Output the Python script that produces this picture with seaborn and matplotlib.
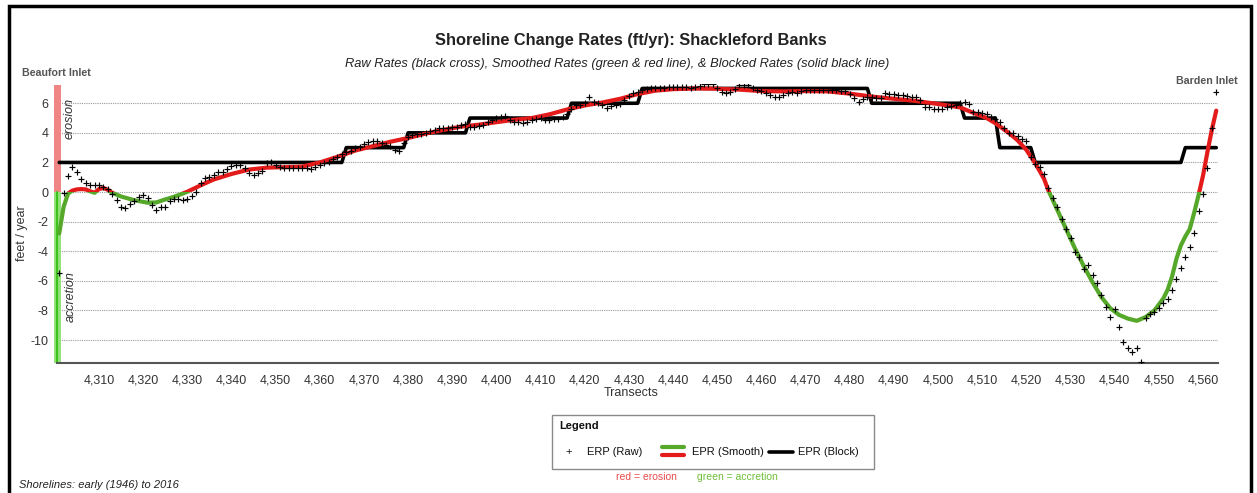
import numpy as np
import pandas as pd
import matplotlib
matplotlib.use("Agg")
import matplotlib.pyplot as plt
from matplotlib.patches import Rectangle
from matplotlib.lines import Line2D
import seaborn as sns

# raw end point rates, one per transect 4301..4563
raw_rates = [
    -5.5, -0.05, 1.1, 1.7, 1.33, 0.85, 0.63, 0.5, 0.5, 0.5,
    0.36, 0.2, -0.1, -0.57, -1.02, -1.08, -0.8, -0.6, -0.35, -0.18,
    -0.37, -0.85, -1.24, -1.01, -0.99, -0.62, -0.5, -0.45, -0.54, -0.5,
    -0.3, 0.0, 0.59, 0.92, 1.03, 1.15, 1.37, 1.37, 1.53, 1.76,
    1.82, 1.82, 1.65, 1.32, 1.18, 1.26, 1.4, 1.94, 2.0, 1.8,
    1.71, 1.65, 1.62, 1.6, 1.63, 1.65, 1.6, 1.58, 1.7, 1.8,
    1.95, 2.05, 2.2, 2.35, 2.55, 2.7, 2.8, 2.95, 3.06, 3.24,
    3.4, 3.47, 3.45, 3.3, 3.2, 3.1, 2.86, 2.8, 3.3, 3.75,
    3.85, 3.9, 3.95, 4.0, 4.1, 4.22, 4.3, 4.32, 4.35, 4.4,
    4.41, 4.53, 4.6, 4.37, 4.37, 4.46, 4.55, 4.7, 4.85, 5.0,
    5.09, 5.14, 4.9, 4.75, 4.71, 4.68, 4.75, 4.85, 4.95, 5.0,
    4.86, 4.86, 4.91, 4.93, 5.05, 5.3, 5.6, 5.88, 5.88, 6.0,
    6.44, 6.1, 6.03, 5.88, 5.65, 5.81, 5.88, 5.93, 6.2, 6.5,
    6.67, 6.78, 6.9, 6.95, 7.0, 7.0, 7.05, 7.05, 7.1, 7.1,
    7.12, 7.12, 7.1, 7.05, 7.1, 7.18, 7.28, 7.3, 7.28, 7.0,
    6.78, 6.67, 6.74, 6.95, 7.23, 7.23, 7.2, 7.0, 6.9, 6.85,
    6.7, 6.55, 6.4, 6.4, 6.55, 6.7, 6.75, 6.67, 6.85, 6.9,
    6.9, 6.9, 6.88, 6.9, 6.92, 6.9, 6.9, 6.85, 6.8, 6.6,
    6.33, 6.1, 6.26, 6.4, 6.44, 6.35, 6.33, 6.67, 6.62, 6.6,
    6.55, 6.55, 6.49, 6.44, 6.4, 6.2, 5.76, 5.72, 5.59, 5.59,
    5.59, 5.76, 5.83, 5.9, 6.0, 6.1, 5.95, 5.43, 5.38, 5.36,
    5.25, 5.09, 4.91, 4.75, 4.3, 4.01, 3.96, 3.78, 3.58, 3.45,
    2.4, 1.9, 1.67, 1.19, 0.25, -0.4, -0.99, -1.8, -2.52, -3.13,
    -4.03, -4.37, -5.23, -4.93, -5.61, -6.17, -6.96, -7.75, -8.43, -7.93,
    -9.1, -10.11, -10.56, -10.79, -10.56, -11.47, -8.54, -8.24, -8.13, -7.86,
    -7.52, -7.25, -6.62, -5.88, -5.16, -4.37, -3.74, -2.79, -1.28, -0.14,
    1.6, 4.3, 6.74,
]
transects = np.arange(4301, 4301 + len(raw_rates))

# smoothed rates (read at key transects)
smooth_transects = [
    4301, 4302, 4303, 4304, 4305, 4306, 4307, 4308, 4309, 4310,
    4311, 4312, 4313, 4315, 4318, 4321, 4323, 4325, 4327, 4329,
    4330, 4333, 4336, 4340, 4344, 4348, 4352, 4356, 4360, 4364,
    4368, 4372, 4376, 4380, 4384, 4388, 4392, 4396, 4400, 4404,
    4408, 4412, 4416, 4420, 4424, 4428, 4432, 4436, 4440, 4445,
    4450, 4455, 4460, 4465, 4470, 4475, 4480, 4485, 4490, 4495,
    4500, 4505, 4508, 4511, 4513, 4516, 4518, 4520, 4522, 4524,
    4525, 4527, 4529, 4531, 4533, 4535, 4537, 4539, 4541, 4543,
    4545, 4547, 4549, 4551, 4552, 4553, 4554, 4555, 4556, 4557,
    4558, 4559, 4560, 4561, 4562, 4563,
]
smooth_rates = [
    -2.8, -1.0, -0.1, 0.1, 0.18, 0.2, 0.18, 0.05, -0.05, 0.2,
    0.28, 0.15, -0.05, -0.3, -0.55, -0.72, -0.7, -0.5, -0.32, -0.1,
    0.02, 0.45, 0.85, 1.22, 1.52, 1.65, 1.68, 1.72, 2.0, 2.38,
    2.8, 3.1, 3.4, 3.65, 3.95, 4.2, 4.42, 4.55, 4.72, 4.88,
    5.0, 5.25, 5.58, 5.85, 6.05, 6.3, 6.62, 6.85, 6.95, 7.0,
    6.98, 6.92, 6.82, 6.8, 6.82, 6.8, 6.65, 6.45, 6.3, 6.15,
    5.95, 5.72, 5.35, 5.0, 4.65, 4.0, 3.5, 2.85, 1.95, 0.9,
    0.1, -1.2, -2.5, -3.8, -5.0, -6.1, -7.1, -7.85, -8.3, -8.55,
    -8.7, -8.45, -8.0, -7.2, -6.6, -5.7, -4.5, -3.6, -3.0, -2.5,
    -1.4, -0.2, 1.1, 2.7, 4.2, 5.5,
]

# blocked rates: first transect, last transect, rate
block_first = [4301, 4366, 4380, 4394, 4417, 4433, 4485, 4506, 4514, 4522, 4556]
block_last = [4365, 4379, 4393, 4416, 4432, 4484, 4505, 4513, 4521, 4555, 4563]
block_rates = [2, 3, 4, 5, 6, 7, 6, 5, 3, 2, 3]

x_ticks = list(range(4310, 4561, 10))
y_ticks = [-10, -8, -6, -4, -2, 0, 2, 4, 6]

raw_df = pd.DataFrame({"transect": transects, "rate": raw_rates})
smooth_df = pd.DataFrame({"transect": smooth_transects, "rate": smooth_rates})
block_rows = []
for first, last, rate in zip(block_first, block_last, block_rates):
    for t in range(first, last + 1):
        block_rows.append((t, rate))
block_df = pd.DataFrame(block_rows, columns=["transect", "rate"])

sns.set_theme(style="white")
plt.rcParams['font.family'] = ['Liberation Sans', 'DejaVu Sans']

W, H = 1257, 493
def fx(x):
    return x / W
def fy(y):
    return 1 - y / H

RED = "#e31b1b"
GREEN = "#55a82a"
XMIN, XMAX = 4300.5, 4563.4
YMIN, YMAX = -11.55, 7.3

fig = plt.figure(figsize=(W / 100, H / 100), dpi=100)
fig.patch.set_facecolor("white")
ax = fig.add_axes([fx(57), fy(363), (1218 - 57) / W, (363 - 84) / H])

# erosion / accretion bars at the left edge
ax.add_patch(Rectangle((4299.8, 0), 1.6, 7.2, facecolor="#f08585", edgecolor="none",
                       clip_on=False, zorder=1))
ax.add_patch(Rectangle((4299.8, YMIN), 1.6, -YMIN, facecolor="#95e27a", edgecolor="none",
                       clip_on=False, zorder=1))
ax.plot([4300.6, 4300.6], [YMIN, 0], color="#3fc21b", lw=1.5, clip_on=False, zorder=1)

# blocked rates
sns.lineplot(data=block_df, x="transect", y="rate", color="black", linewidth=2.6,
             ax=ax, zorder=3)

# smoothed rates, red above zero, green below
sns.lineplot(data=smooth_df, x="transect", y="rate", color=RED, linewidth=3,
             ax=ax, zorder=4)
red_line = ax.lines[-1]
red_line.set_clip_path(Rectangle((XMIN - 5, 0), 300, 30, transform=ax.transData))
sns.lineplot(data=smooth_df, x="transect", y="rate", color=GREEN, linewidth=3,
             ax=ax, zorder=4)
green_line = ax.lines[-1]
green_line.set_clip_path(Rectangle((XMIN - 5, -30), 300, 30, transform=ax.transData))

# raw rates
sns.scatterplot(data=raw_df, x="transect", y="rate", marker="+", color="black",
                s=22, linewidth=0.85, ax=ax, zorder=5)

ax.set_xlim(XMIN, XMAX)
ax.set_ylim(YMIN, YMAX)
ax.set_xticks(x_ticks)
ax.set_xticklabels([f"{t:,}" for t in x_ticks])
ax.set_yticks(y_ticks)
ax.set_yticklabels([str(v) for v in y_ticks])
ax.tick_params(axis="both", labelsize=9, colors="#333333", length=4, width=1,
               direction="out", pad=2)
ax.tick_params(axis="x", pad=4)
ax.yaxis.grid(True, linestyle=(0, (1, 1)), color="#9a9a9a", linewidth=0.8)
ax.xaxis.grid(False)
ax.set_xlabel("")
ax.set_ylabel("")
for side in ["top", "right", "left"]:
    ax.spines[side].set_visible(False)
ax.spines["bottom"].set_color("#555555")
ax.spines["bottom"].set_linewidth(1.5)

# texts
fig.text(fx(631), fy(41), "Shoreline Change Rates (ft/yr): Shackleford Banks",
         ha="center", va="center", fontsize=11.8, fontweight="bold", color="#222222")
fig.text(fx(617), fy(64),
         "Raw Rates (black cross), Smoothed Rates (green & red line), & Blocked Rates (solid black line)",
         ha="center", va="center", fontsize=9.3, style="italic", color="#222222")
fig.text(fx(22), fy(73), "Beaufort Inlet", ha="left", va="center", fontsize=7.7,
         fontweight="bold", color="#555555")
fig.text(fx(1238), fy(81), "Barden Inlet", ha="right", va="center", fontsize=7.7,
         fontweight="bold", color="#555555")
fig.text(fx(22), fy(233), "feet / year", ha="center", va="center", rotation=90,
         fontsize=9, color="#333333")
fig.text(fx(631), fy(393), "Transects", ha="center", va="center", fontsize=9,
         color="#333333")
fig.text(fx(70), fy(118), "erosion", ha="center", va="center", rotation=90,
         fontsize=9, style="italic", color="#333333")
fig.text(fx(71), fy(297), "accretion", ha="center", va="center", rotation=90,
         fontsize=9, style="italic", color="#333333")
fig.text(fx(19), fy(485), "Shorelines: early (1946) to 2016", ha="left", va="center",
         fontsize=8, style="italic", color="#222222")

# legend box
fig.add_artist(Rectangle((fx(552), fy(469)), 322 / W, 54 / H, transform=fig.transFigure,
                         facecolor="white", edgecolor="#8a8a8a", lw=1))
fig.text(fx(559), fy(426), "Legend", ha="left", va="center", fontsize=8,
         fontweight="bold", color="#111111")
fig.text(fx(569), fy(452), "+", ha="center", va="center", fontsize=8, color="#111111")
fig.text(fx(587), fy(452), "ERP (Raw)", ha="left", va="center", fontsize=8, color="#111111")
fig.add_artist(Line2D([fx(662), fx(684)], [fy(447), fy(447)], color=GREEN, lw=3,
                      transform=fig.transFigure))
fig.add_artist(Line2D([fx(662), fx(684)], [fy(455), fy(455)], color=RED, lw=3,
                      transform=fig.transFigure))
fig.text(fx(692), fy(452), "EPR (Smooth)", ha="left", va="center", fontsize=8, color="#111111")
fig.add_artist(Line2D([fx(769), fx(793)], [fy(452), fy(452)], color="black", lw=2.6,
                      transform=fig.transFigure))
fig.text(fx(798), fy(452), "EPR (Block)", ha="left", va="center", fontsize=8, color="#111111")
fig.text(fx(616), fy(477), "red = erosion", ha="left", va="center", fontsize=7.5,
         color="#e84a4a")
fig.text(fx(697), fy(477), "green = accretion", ha="left", va="center", fontsize=7.5,
         color="#6fbf3a")

# outer frame
fig.add_artist(Rectangle((fx(9), fy(505)), (1251 - 9) / W, (505 - 6) / H,
                         transform=fig.transFigure, fill=False, edgecolor="black", lw=2.5))

fig.savefig("out.png", dpi=100, facecolor="white")
